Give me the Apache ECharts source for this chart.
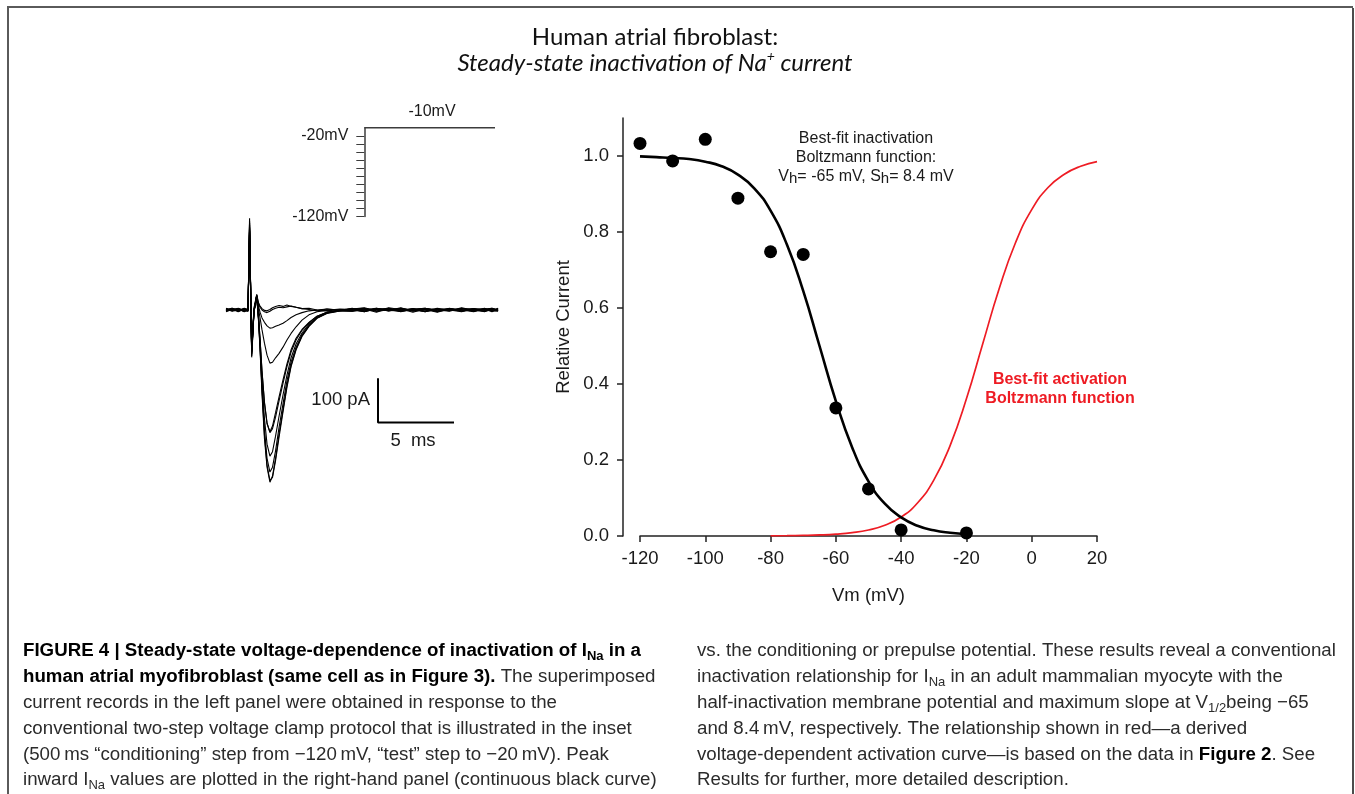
<!DOCTYPE html>
<html>
<head>
<meta charset="utf-8">
<title>Steady-state inactivation of Na+ current</title>
<script src="https://cdn.jsdelivr.net/npm/echarts@6/dist/echarts.min.js"></script>
<style>
  html, body { margin: 0; padding: 0; background: #ffffff; }
  #chart { width: 1355px; height: 794px; }
</style>
</head>
<body>
<div id="chart"></div>
<script>
// ---- Steady-state inactivation: conditioning potential vs normalised peak I_Na
const conditioningMv = [-120, -110, -100, -90, -80, -70, -60, -50, -40, -20];
const relativeCurrent = [1.033, 0.987, 1.044, 0.889, 0.748, 0.741, 0.337, 0.124, 0.016, 0.008];

// Best-fit inactivation Boltzmann curve (Vh = -65 mV, Sh = 8.4 mV)
const inactFitMv = [-120, -115, -110, -105, -100, -95, -90, -85, -80, -75, -70,
                    -65, -60, -55, -50, -45, -40, -35, -30, -25, -20];
const inactFit = [0.999, 0.997, 0.995, 0.992, 0.985, 0.973, 0.951, 0.915, 0.856, 0.767, 0.645,
                  0.500, 0.355, 0.233, 0.144, 0.085, 0.049, 0.027, 0.015, 0.0085, 0.0047];

// Best-fit activation Boltzmann curve (red)
const actFitMv = [-80, -75, -70, -65, -60, -55, -50, -45, -40, -35, -30,
                  -25, -20, -15, -10, -5, 0, 5, 10, 15, 20];
const actFit = [0.0005, 0.0008, 0.0015, 0.0027, 0.0049, 0.0088, 0.0158, 0.0282, 0.050, 0.087, 0.147,
                0.238, 0.361, 0.506, 0.650, 0.771, 0.859, 0.917, 0.952, 0.973, 0.985];

const yTicks = [0, 0.2, 0.4, 0.6, 0.8, 1.0];

// ---- Superimposed current records (time in ms, current in pA)
const traceTimeMs = [0, 0.4, 0.8, 1.2, 1.45,
  1.55, 1.69, 1.84, 2.02,
  2.14, 2.24, 2.37, 2.53, 2.70, 2.89, 3.06, 3.26, 3.49, 3.75, 4.01, 4.28, 4.61, 5.00, 5.46, 5.99, 6.64, 7.50,
  8.3, 9.1, 9.9, 10.7, 11.5, 12.3, 13.1, 13.9, 14.7, 15.5, 16.3, 17.0, 17.5, 17.9];

const traceM100 = [2, -3, 4, -2, 1,  207, -107, -5, 34,
  -25, -90, -190, -290, -355, -389, -375, -335, -280, -225, -170, -125, -88, -58, -36, -18, -7, -2,
  3, -4, 2, -1, 5, -3, 1, -5, 3, 0, -4, 4, -2, 1];
const traceM120 = [-2, 3, -4, 2, 0,  200, -104, -3, 31,
  -22, -85, -182, -282, -350, -385, -378, -340, -287, -230, -175, -128, -90, -60, -37, -19, -8, -2,
  -3, 2, -5, 4, -1, 3, -4, 2, -2, 5, -1, -3, 3, -1];
const traceM110 = [4, -1, 2, -4, 2,  196, -100, -6, 33,
  -20, -82, -175, -270, -335, -366, -355, -318, -265, -212, -160, -118, -84, -56, -35, -17, -7, -1,
  2, 5, -2, 1, -4, 2, 4, -2, 1, -3, 2, -1, 4, -2];
const traceM90 = [-4, 1, 3, -1, -2,  192, -98, -2, 30,
  -18, -75, -160, -245, -303, -330, -320, -285, -240, -192, -147, -108, -77, -52, -32, -16, -6, -1,
  -1, -3, 4, -2, 2, -5, 3, 1, -3, 4, -2, 2, -4, 3];
const traceM80 = [1, 4, -3, 3, -1,  188, -95, -4, 32,
  -15, -65, -138, -208, -255, -277, -268, -242, -205, -166, -128, -95, -68, -46, -29, -14, -5, -1,
  4, -2, 1, 3, -3, 0, -2, 4, -1, 2, 3, -4, 1, 2];
const traceM70 = [-3, 2, 1, -3, 3,  185, -93, -1, 29,
  -16, -66, -140, -210, -257, -275, -262, -232, -196, -158, -122, -90, -64, -44, -28, -14, -5, 0,
  -2, 3, -3, 5, 1, -2, 3, -3, 4, -2, 1, 3, -2, -3];
const traceM60 = [3, -2, -1, 4, 1,  182, -92, -3, 30,
  2, -18, -45, -75, -102, -120, -118, -108, -98, -84, -68, -53, -38, -23, -11, -4, -1, 2,
  1, -4, 3, -2, 4, -1, -3, 2, 0, -4, 3, 1, -2, 4];
const traceM50 = [-1, 3, -3, 1, 2,  180, -90, -2, 32,
  8, -5, -18, -28, -36, -41, -40, -37, -34, -30, -24, -17, -11, -6, -2, 0, 2, -1,
  -3, 1, 4, -1, -2, 3, -4, 1, 3, -2, 0, -3, 2, 1];
const traceM40 = [2, 0, 3, -3, -2,  178, -88, 2, 33,
  14, 6, 0, -4, -6, -3, 1, 4, 6, 5, 7, 9, 6, 3, 1, -2, 2, 0,
  2, 4, -3, 0, 3, -1, 2, -4, 2, 1, -3, 2, 4, -1];
const traceM20 = [-2, 4, 0, 2, -3,  175, -86, 4, 35,
  16, 9, 3, -1, -2, 1, 5, 8, 10, 8, 11, 8, 6, 3, 4, 0, -2, 1,
  0, -2, 2, 3, -3, 1, 4, -2, -1, 3, -2, 0, 3, -2];
const currentTraces = [traceM100, traceM120, traceM110, traceM90, traceM80,
                       traceM70, traceM60, traceM50, traceM40, traceM20];

// Calibration bar: 100 pA, 5 ms
const scaleBarMs = [10, 10, 15];
const scaleBarPa = [-154, -254, -254];

// ---- Voltage protocol inset (mV)
const conditioningLevels = [-120, -110, -100, -90, -80, -70, -60, -50, -40, -30, -20];
const protocolLabelLevels = [-120, -20];
const testStepMs = [0, 1];
const testStepMv = [-10, -10];

const zip = (xs, ys) => xs.map((x, i) => [x, ys[i]]);

const arial = "'Liberation Sans', Arial, Helvetica, sans-serif";
const ink = '#1a1a1a';

const captionRich = {
  b:  { fontFamily: arial, fontSize: 18.7, fontWeight: 'bold', fill: '#000', lineHeight: 24 },
  r:  { fontFamily: arial, fontSize: 18.7, fill: '#2b2b2b', lineHeight: 24 },
  s:  { fontFamily: arial, fontSize: 13, fill: '#2b2b2b', lineHeight: 12, verticalAlign: 'bottom' },
  bs: { fontFamily: arial, fontSize: 13, fontWeight: 'bold', fill: '#000', lineHeight: 12, verticalAlign: 'bottom' }
};

const captionLeft = [
  '{b|FIGURE 4 | Steady-state voltage-dependence of inactivation of I}{bs|Na}{b| in a}',
  '{b|human atrial myofibroblast (same cell as in Figure 3).}{r| The superimposed}',
  '{r|current records in the left panel were obtained in response to the}',
  '{r|conventional two-step voltage clamp protocol that is illustrated in the inset}',
  '{r|(500\u2009ms \u201cconditioning\u201d step from \u2212120\u2009mV, \u201ctest\u201d step to \u221220\u2009mV). Peak}',
  '{r|inward I}{s|Na}{r| values are plotted in the right-hand panel (continuous black curve)}'
];
const captionRight = [
  '{r|vs. the conditioning or prepulse potential. These results reveal a conventional}',
  '{r|inactivation relationship for I}{s|Na}{r| in an adult mammalian myocyte with the}',
  '{r|half-inactivation membrane potential and maximum slope at V}{s|1/2}{r|being \u221265}',
  '{r|and 8.4\u2009mV, respectively. The relationship shown in red\u2014a derived}',
  '{r|voltage-dependent activation curve\u2014is based on the data in }{b|Figure 2}{r|. See}',
  '{r|Results for further, more detailed description.}'
];
const captionLineY = [651, 677, 703, 729, 755, 780];

const graphics = [
  // figure frame
  { type: 'line', shape: { x1: 8, y1: 7, x2: 1353, y2: 7 }, style: { stroke: '#5a5a5a', lineWidth: 2 } },
  { type: 'line', shape: { x1: 8, y1: 6, x2: 8, y2: 794 }, style: { stroke: '#5a5a5a', lineWidth: 2 } },
  { type: 'line', shape: { x1: 1353, y1: 8, x2: 1353, y2: 794 }, style: { stroke: '#111', lineWidth: 1.5 } },
  // heading
  { type: 'text', x: 655, y: 37, style: {
      text: 'Human atrial fibroblast:', fontFamily: 'Lato', fontSize: 24, fill: '#111',
      align: 'center', verticalAlign: 'middle' } },
  { type: 'text', x: 655, y: 63, style: {
      text: '{i|Steady-state inactivation of Na}{p|+}{i| current}',
      align: 'center', verticalAlign: 'middle',
      rich: {
        i: { fontFamily: 'Lato', fontStyle: 'italic', fontSize: 24, fill: '#111', lineHeight: 28 },
        p: { fontFamily: 'Lato', fontStyle: 'italic', fontSize: 14, fill: '#111', lineHeight: 15, verticalAlign: 'top' }
      } } },
  // inactivation fit annotation
  { type: 'text', x: 866, y: 158, style: {
      text: '{n|Best-fit inactivation}\n{n|Boltzmann function:}\n{n|V}{s|h}{n|= -65 mV, S}{s|h}{n|= 8.4 mV}',
      align: 'center', verticalAlign: 'middle',
      rich: {
        n: { fontFamily: arial, fontSize: 16, fill: ink, lineHeight: 19 },
        s: { fontFamily: arial, fontSize: 15, fill: ink, lineHeight: 9, verticalAlign: 'bottom' }
      } } },
  // activation fit annotation
  { type: 'text', x: 1060, y: 389, style: {
      text: 'Best-fit activation\nBoltzmann function', fontFamily: arial, fontSize: 16, fontWeight: 'bold',
      fill: '#ee1c24', lineHeight: 19, align: 'center', verticalAlign: 'middle' } },
  // calibration bar labels
  { type: 'text', x: 370, y: 400, style: {
      text: '100 pA', fontFamily: arial, fontSize: 18.5, fill: ink, align: 'right', verticalAlign: 'middle' } },
  { type: 'text', x: 413, y: 441, style: {
      text: '5  ms', fontFamily: arial, fontSize: 18.5, fill: ink, align: 'center', verticalAlign: 'middle' } },
  // test-step label
  { type: 'text', x: 432, y: 112, style: {
      text: '-10mV', fontFamily: arial, fontSize: 16, fill: ink, align: 'center', verticalAlign: 'middle' } }
];

captionLeft.forEach((t, i) => graphics.push({ type: 'text', x: 23, y: captionLineY[i],
  style: { text: t, rich: captionRich, align: 'left', verticalAlign: 'middle' } }));
captionRight.forEach((t, i) => graphics.push({ type: 'text', x: 697, y: captionLineY[i],
  style: { text: t, rich: captionRich, align: 'left', verticalAlign: 'middle' } }));

const axisInk = { color: '#222', width: 1.5 };

const traceSeries = currentTraces.map((vals) => ({
  type: 'line', xAxisIndex: 1, yAxisIndex: 1, data: zip(traceTimeMs, vals),
  symbol: 'none', smooth: false, lineStyle: { color: '#000', width: 1.1 }, z: 2
}));

const option = {
  animation: false,
  backgroundColor: '#ffffff',
  grid: [
    { left: 640, top: 118, width: 457, height: 418 },
    { left: 226, top: 212.5, width: 273.6, height: 283.5 },
    { left: 364.3, top: 127.7, width: 130.7, height: 88.8 }
  ],
  xAxis: [
    { gridIndex: 0, type: 'value', min: -120, max: 20, interval: 20,
      axisLine: { show: true, onZero: false, lineStyle: axisInk },
      axisTick: { show: true, length: 6, lineStyle: axisInk },
      axisLabel: { color: ink, fontFamily: arial, fontSize: 18.5, margin: 13 },
      splitLine: { show: false },
      name: 'Vm (mV)', nameLocation: 'middle', nameGap: 50,
      nameTextStyle: { color: ink, fontFamily: arial, fontSize: 18.5 } },
    { gridIndex: 1, type: 'value', min: 0, max: 18, show: false },
    { gridIndex: 2, type: 'value', min: 0, max: 1, show: false }
  ],
  yAxis: [
    { gridIndex: 0, type: 'value', min: 0, max: 1.1, offset: 17,
      axisLine: { show: true, onZero: false, lineStyle: axisInk },
      axisTick: { show: true, length: 6, lineStyle: axisInk, customValues: yTicks },
      axisLabel: { color: ink, fontFamily: arial, fontSize: 18.5, margin: 14,
                   customValues: yTicks, formatter: (v) => v.toFixed(1) },
      splitLine: { show: false },
      name: 'Relative Current', nameLocation: 'middle', nameGap: 50, nameRotate: 90,
      nameTextStyle: { color: ink, fontFamily: arial, fontSize: 18.5 } },
    { gridIndex: 1, type: 'value', min: -420, max: 220, show: false },
    { gridIndex: 2, type: 'value', min: -120, max: -10,
      axisLine: { show: true, onZero: false, lineStyle: { color: '#3c3c3c', width: 1.5 } },
      axisTick: { show: true, length: 8, lineStyle: { color: '#3c3c3c', width: 1 }, customValues: conditioningLevels },
      axisLabel: { color: ink, fontFamily: arial, fontSize: 16, margin: 16,
                   customValues: protocolLabelLevels, formatter: (v) => v + 'mV' },
      splitLine: { show: false } }
  ],
  series: [
    { type: 'line', xAxisIndex: 0, yAxisIndex: 0, data: zip(actFitMv, actFit),
      symbol: 'none', smooth: true, lineStyle: { color: '#ee1c24', width: 1.7 }, z: 2 },
    { type: 'line', xAxisIndex: 0, yAxisIndex: 0, data: zip(inactFitMv, inactFit),
      symbol: 'none', smooth: true, lineStyle: { color: '#000', width: 2.6 }, z: 3 },
    { type: 'scatter', xAxisIndex: 0, yAxisIndex: 0, data: zip(conditioningMv, relativeCurrent),
      symbol: 'circle', symbolSize: 13, itemStyle: { color: '#000', opacity: 1 }, z: 4 },
    ...traceSeries,
    { type: 'line', xAxisIndex: 1, yAxisIndex: 1, data: zip(scaleBarMs, scaleBarPa),
      symbol: 'none', lineStyle: { color: '#000', width: 2 }, z: 3 },
    { type: 'line', xAxisIndex: 2, yAxisIndex: 2, data: zip(testStepMs, testStepMv),
      symbol: 'none', lineStyle: { color: '#3c3c3c', width: 1.5 }, z: 3 }
  ],
  graphic: graphics
};

const chart = echarts.init(document.getElementById('chart'), null, { renderer: 'canvas' });
chart.setOption(option);
</script>
</body>
</html>
